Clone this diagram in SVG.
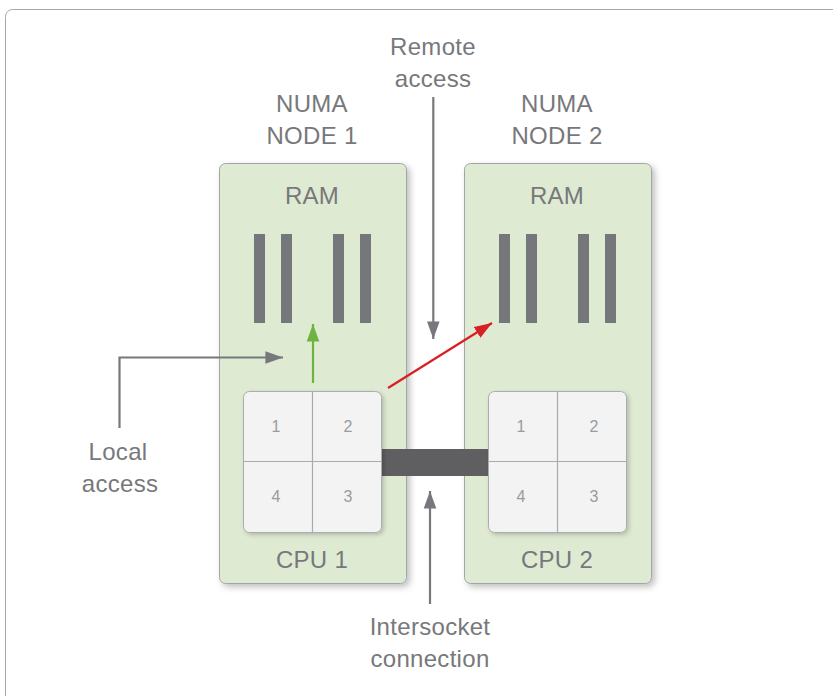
<svg xmlns="http://www.w3.org/2000/svg" width="833" height="696" viewBox="0 0 833 696">
  <defs>
    <filter id="shadow" x="-20%" y="-10%" width="150%" height="130%">
      <feDropShadow dx="3" dy="3" stdDeviation="3" flood-color="#000" flood-opacity="0.25"/>
    </filter>
    <filter id="soft" x="-20%" y="-20%" width="150%" height="150%">
      <feDropShadow dx="2" dy="2" stdDeviation="2" flood-color="#000" flood-opacity="0.2"/>
    </filter>
    <marker id="ahGrey" viewBox="0 0 14 10" refX="14" refY="5" markerWidth="8" markerHeight="6" markerUnits="strokeWidth" orient="auto">
      <path d="M0,0 L14,5 L0,10 z" fill="#77787b"/>
    </marker>
    <marker id="ahGreen" viewBox="0 0 14 10" refX="14" refY="5" markerWidth="8" markerHeight="6" markerUnits="strokeWidth" orient="auto">
      <path d="M0,0 L14,5 L0,10 z" fill="#6db33f"/>
    </marker>
    <marker id="ahRed" viewBox="0 0 14 10" refX="14" refY="5" markerWidth="8" markerHeight="6" markerUnits="strokeWidth" orient="auto">
      <path d="M0,0 L14,5 L0,10 z" fill="#d71f26"/>
    </marker>
  </defs>
  <style>
    .lbl { font-family: "Liberation Sans", Arial, sans-serif; font-size: 24px; fill: #77787b; text-anchor: middle; letter-spacing: 0.3px; }
    .num { font-family: "Liberation Sans", Arial, sans-serif; font-size: 16px; fill: #9a9b9e; text-anchor: middle; }
    .panel { fill: #dfead2; stroke: #a3a5a8; stroke-width: 1; }
    .bar { fill: #76777b; }
    .cpu { fill: #f2f3f2; stroke: #aaacaf; stroke-width: 1; }
    .div { stroke: #a8aaad; stroke-width: 1.2; }
    .conn { fill: none; stroke: #77787b; stroke-width: 2.2; }
  </style>

  <!-- outer frame -->
  <rect x="5.5" y="9.5" width="840" height="700" rx="7" fill="#fff" stroke="#a7a8aa" stroke-width="1"/>

  <!-- NUMA node 1 -->
  <g id="numa-node-1">
    <text class="lbl" x="312" y="112">NUMA</text>
    <text class="lbl" x="312" y="144">NODE 1</text>
    <rect class="panel" x="219.5" y="163.5" width="187" height="420" rx="6" filter="url(#shadow)"/>
    <text class="lbl" x="312" y="204">RAM</text>
    <rect class="bar" x="254" y="234" width="11" height="89"/>
    <rect class="bar" x="281" y="234" width="11" height="89"/>
    <rect class="bar" x="333" y="234" width="11" height="89"/>
    <rect class="bar" x="360" y="234" width="11" height="89"/>
    <text class="lbl" x="312" y="568">CPU 1</text>
  </g>

  <!-- NUMA node 2 -->
  <g id="numa-node-2">
    <text class="lbl" x="557" y="112">NUMA</text>
    <text class="lbl" x="557" y="144">NODE 2</text>
    <rect class="panel" x="464.5" y="163.5" width="187" height="420" rx="6" filter="url(#shadow)"/>
    <text class="lbl" x="557" y="204">RAM</text>
    <rect class="bar" x="499" y="234" width="11" height="89"/>
    <rect class="bar" x="526" y="234" width="11" height="89"/>
    <rect class="bar" x="578" y="234" width="11" height="89"/>
    <rect class="bar" x="605" y="234" width="11" height="89"/>
    <text class="lbl" x="557" y="568">CPU 2</text>
  </g>

  <!-- intersocket link between the two sockets -->
  <rect id="intersocket-bar" x="381" y="449" width="108" height="27" fill="#5f5f61"/>

  <!-- CPU 1 cores -->
  <g id="cpu-1">
    <rect class="cpu" x="243.5" y="391.5" width="138" height="141" rx="6" filter="url(#soft)"/>
    <line class="div" x1="312.5" y1="392" x2="312.5" y2="532"/>
    <line class="div" x1="244" y1="461.5" x2="381" y2="461.5"/>
    <text class="num" x="276" y="432">1</text>
    <text class="num" x="348" y="432">2</text>
    <text class="num" x="276" y="502">4</text>
    <text class="num" x="348" y="502">3</text>
  </g>

  <!-- CPU 2 cores -->
  <g id="cpu-2">
    <rect class="cpu" x="488.5" y="391.5" width="138" height="141" rx="6" filter="url(#soft)"/>
    <line class="div" x1="557.5" y1="392" x2="557.5" y2="532"/>
    <line class="div" x1="489" y1="461.5" x2="626" y2="461.5"/>
    <text class="num" x="521" y="432">1</text>
    <text class="num" x="594" y="432">2</text>
    <text class="num" x="521" y="502">4</text>
    <text class="num" x="594" y="502">3</text>
  </g>

  <!-- callout labels -->
  <g id="remote-access">
    <text class="lbl" x="433" y="55">Remote</text>
    <text class="lbl" x="433" y="87">access</text>
  </g>
  <g id="local-access">
    <text class="lbl" x="118" y="460">Local</text>
    <text class="lbl" x="120" y="492">access</text>
  </g>
  <g id="intersocket-connection">
    <text class="lbl" x="430" y="635">Intersocket</text>
    <text class="lbl" x="430" y="667">connection</text>
  </g>

  <!-- connectors -->
  <g id="connectors">
    <line class="conn" x1="433.3" y1="97" x2="433.3" y2="339" marker-end="url(#ahGrey)"/>
    <polyline class="conn" points="119.5,428 119.5,357.5 283,357.5" marker-end="url(#ahGrey)"/>
    <line class="conn" x1="430" y1="604" x2="430" y2="491" marker-end="url(#ahGrey)"/>
    <line x1="313" y1="383" x2="313" y2="324" stroke="#6db33f" stroke-width="2.2" marker-end="url(#ahGreen)"/>
    <line x1="388" y1="388" x2="492" y2="323" stroke="#d71f26" stroke-width="2.2" marker-end="url(#ahRed)"/>
  </g>
</svg>
